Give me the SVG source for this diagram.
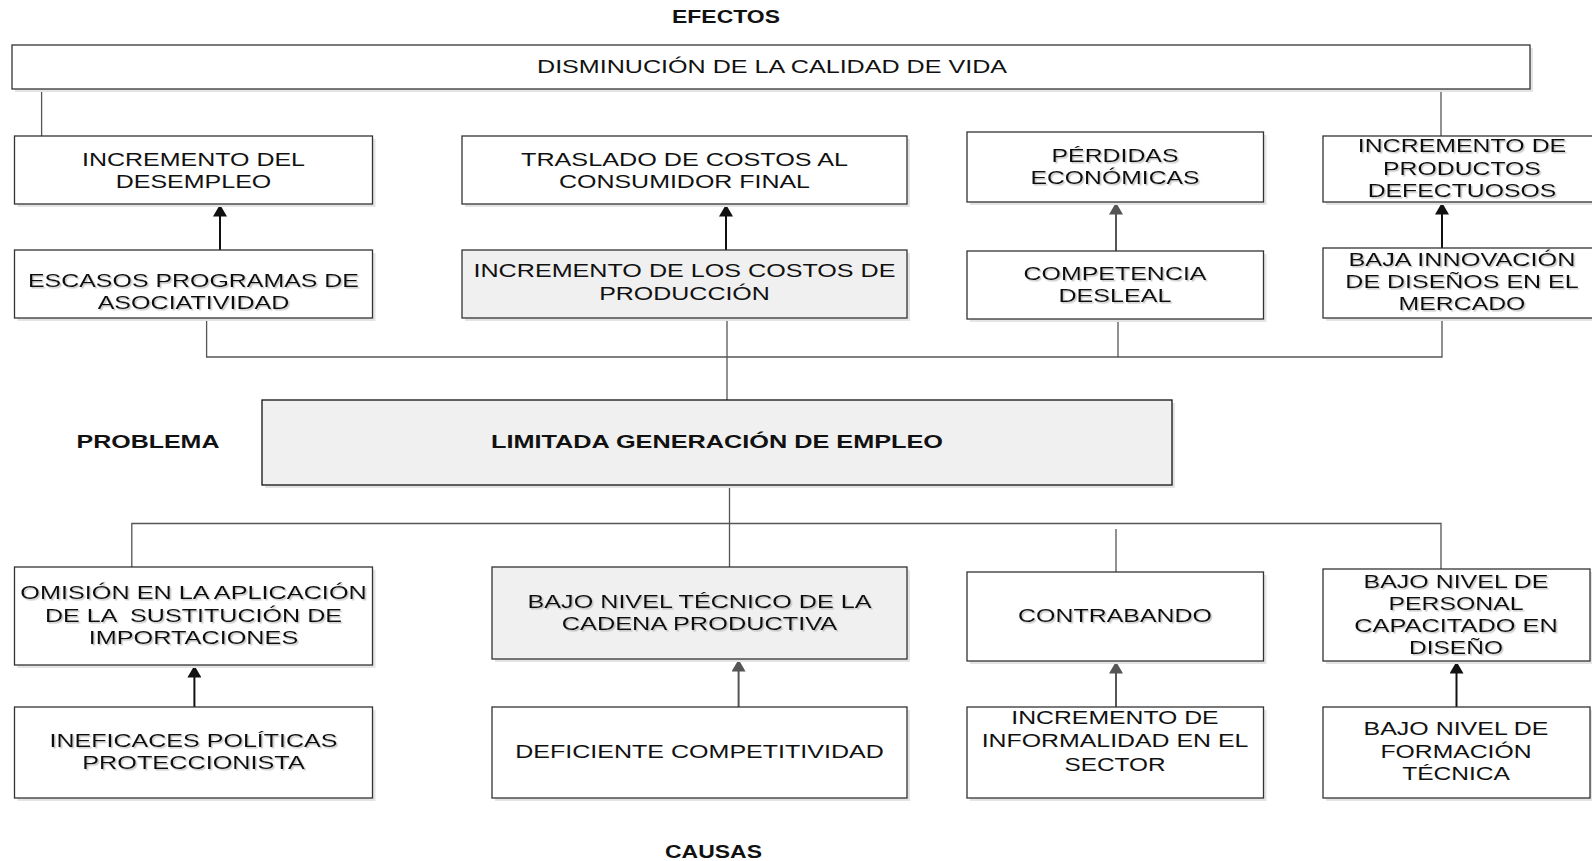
<svg xmlns="http://www.w3.org/2000/svg" width="1592" height="861" viewBox="0 0 1592 861">
<defs>
<style>
.box{fill:#ffffff;stroke:#333333;stroke-width:1.3}
.grey{fill:#f0f0f0}
.sh{fill:#e4e4e4;stroke:none}
.t{font-family:"Liberation Sans",Arial,sans-serif;font-size:19px;fill:#111111;text-anchor:middle}
.b{font-family:"Liberation Sans",Arial,sans-serif;font-size:18.5px;font-weight:bold;fill:#111111;text-anchor:middle}
.s{filter:url(#ts)}
.ln{fill:none;stroke:#555555;stroke-width:1.3}
.ab{fill:none;stroke:#111111;stroke-width:2;marker-end:url(#hb)}
.ag{fill:none;stroke:#555555;stroke-width:2;marker-end:url(#hg)}
</style>
<filter id="ts" x="-5%" y="-30%" width="110%" height="160%">
<feDropShadow dx="1.5" dy="1.5" stdDeviation="0.6" flood-color="#999999" flood-opacity="0.55"/>
</filter>
<marker id="hb" viewBox="0 0 12 14" refX="12" refY="7" markerWidth="12" markerHeight="14" markerUnits="userSpaceOnUse" orient="auto">
<path d="M0,0 L12,7 L0,14 z" fill="#111111"/>
</marker>
<marker id="hg" viewBox="0 0 12 14" refX="12" refY="7" markerWidth="12" markerHeight="14" markerUnits="userSpaceOnUse" orient="auto">
<path d="M0,0 L12,7 L0,14 z" fill="#555555"/>
</marker>
</defs>
<rect width="1592" height="861" fill="#ffffff"/>

<text class="b" x="726" y="23" textLength="108" lengthAdjust="spacingAndGlyphs">EFECTOS</text>
<text class="b" x="148" y="448" textLength="143" lengthAdjust="spacingAndGlyphs">PROBLEMA</text>
<text class="b" x="713.5" y="858" textLength="97" lengthAdjust="spacingAndGlyphs">CAUSAS</text>

<g id="connectors">
<path class="ln" d="M41.6,89 V136"/>
<path class="ln" d="M1441,89 V136"/>
<path class="ln" d="M206.6,318 V357 H1442 V318"/>
<path class="ln" d="M727,318 V400"/>
<path class="ln" d="M1118,319 V357"/>
<path class="ln" d="M729.5,485 V567"/>
<path class="ln" d="M131.8,567 V523.5 H1441 V569"/>
<path class="ln" d="M1116,529 V572"/>
<path class="ab" d="M220,250 V204.5"/>
<path class="ab" d="M726,250 V204.5"/>
<path class="ag" d="M1116,251 V202.5"/>
<path class="ab" d="M1442,248 V202.5"/>
<path class="ab" d="M194.4,707 V665.5"/>
<path class="ag" d="M738.6,707 V659.5"/>
<path class="ag" d="M1116,707 V661.5"/>
<path class="ab" d="M1456.5,707 V661.5"/>
</g>

<g id="n-top">
<rect class="sh" x="15" y="48" width="1518" height="44"/>
<rect class="box" x="12" y="45" width="1518" height="44"/>
<text class="t" x="772" y="72.7" textLength="470" lengthAdjust="spacingAndGlyphs">DISMINUCIÓN DE LA CALIDAD DE VIDA</text>
</g>

<g id="n-desempleo">
<rect class="sh" x="17.5" y="139" width="358" height="68"/>
<rect class="box" x="14.5" y="136" width="358" height="68"/>
<text class="t" x="193.5" y="165.7" textLength="223" lengthAdjust="spacingAndGlyphs">INCREMENTO DEL</text>
<text class="t" x="193.5" y="187.7" textLength="155.5" lengthAdjust="spacingAndGlyphs">DESEMPLEO</text>
</g>

<g id="n-traslado">
<rect class="sh" x="465" y="139" width="445" height="68"/>
<rect class="box" x="462" y="136" width="445" height="68"/>
<text class="t" x="684.5" y="165.7" textLength="327" lengthAdjust="spacingAndGlyphs">TRASLADO DE COSTOS AL</text>
<text class="t" x="684.5" y="187.7" textLength="251" lengthAdjust="spacingAndGlyphs">CONSUMIDOR FINAL</text>
</g>

<g id="n-perdidas">
<rect class="sh" x="970" y="135" width="296.5" height="70"/>
<rect class="box" x="967" y="132" width="296.5" height="70"/>
<text class="t s" x="1115" y="162.3" textLength="127" lengthAdjust="spacingAndGlyphs">PÉRDIDAS</text>
<text class="t s" x="1115" y="184" textLength="169" lengthAdjust="spacingAndGlyphs">ECONÓMICAS</text>
</g>

<g id="n-defectuosos">
<rect class="sh" x="1326" y="139" width="278" height="66"/>
<rect class="box" x="1323" y="136" width="278" height="66"/>
<text class="t s" x="1462" y="152.3" textLength="208.5" lengthAdjust="spacingAndGlyphs">INCREMENTO DE</text>
<text class="t s" x="1462" y="174.7" textLength="157.8" lengthAdjust="spacingAndGlyphs">PRODUCTOS</text>
<text class="t s" x="1462" y="196.7" textLength="188.7" lengthAdjust="spacingAndGlyphs">DEFECTUOSOS</text>
</g>

<g id="n-escasos">
<rect class="sh" x="17.5" y="253" width="358" height="68"/>
<rect class="box" x="14.5" y="250" width="358" height="68"/>
<text class="t s" x="193.5" y="287.3" textLength="331" lengthAdjust="spacingAndGlyphs">ESCASOS PROGRAMAS DE</text>
<text class="t s" x="193.5" y="309" textLength="191.7" lengthAdjust="spacingAndGlyphs">ASOCIATIVIDAD</text>
</g>

<g id="n-costos">
<rect class="sh" x="465" y="253" width="445" height="68"/>
<rect class="box grey" x="462" y="250" width="445" height="68"/>
<text class="t" x="684.5" y="277.3" textLength="422" lengthAdjust="spacingAndGlyphs">INCREMENTO DE LOS COSTOS DE</text>
<text class="t" x="684.5" y="300" textLength="170.7" lengthAdjust="spacingAndGlyphs">PRODUCCIÓN</text>
</g>

<g id="n-competencia">
<rect class="sh" x="970" y="254" width="296.5" height="68"/>
<rect class="box" x="967" y="251" width="296.5" height="68"/>
<text class="t s" x="1115" y="280" textLength="183" lengthAdjust="spacingAndGlyphs">COMPETENCIA</text>
<text class="t s" x="1115" y="302.3" textLength="113" lengthAdjust="spacingAndGlyphs">DESLEAL</text>
</g>

<g id="n-innovacion">
<rect class="sh" x="1326" y="251" width="278" height="70"/>
<rect class="box" x="1323" y="248" width="278" height="70"/>
<text class="t s" x="1462" y="265.7" textLength="227" lengthAdjust="spacingAndGlyphs">BAJA INNOVACIÓN</text>
<text class="t s" x="1462" y="287.7" textLength="233.3" lengthAdjust="spacingAndGlyphs">DE DISEÑOS EN EL</text>
<text class="t s" x="1462" y="310" textLength="126.8" lengthAdjust="spacingAndGlyphs">MERCADO</text>
</g>

<g id="n-problema">
<rect class="sh" x="265" y="403" width="910" height="85"/>
<rect class="box grey" x="262" y="400" width="910" height="85" style="stroke:#111111"/>
<text class="b" x="717" y="448.3" textLength="452" lengthAdjust="spacingAndGlyphs">LIMITADA GENERACIÓN DE EMPLEO</text>
</g>

<g id="n-omision">
<rect class="sh" x="17.5" y="570" width="358" height="98"/>
<rect class="box" x="14.5" y="567" width="358" height="98"/>
<text class="t s" x="193.5" y="599" textLength="346.5" lengthAdjust="spacingAndGlyphs">OMISIÓN EN LA APLICACIÓN</text>
<text class="t s" x="193.5" y="621.7" textLength="297" lengthAdjust="spacingAndGlyphs" style="white-space:pre">DE LA  SUSTITUCIÓN DE</text>
<text class="t s" x="193.5" y="644" textLength="209.6" lengthAdjust="spacingAndGlyphs">IMPORTACIONES</text>
</g>

<g id="n-tecnico">
<rect class="sh" x="495" y="570" width="415" height="92"/>
<rect class="box grey" x="492" y="567" width="415" height="92"/>
<text class="t s" x="699.5" y="608.3" textLength="344" lengthAdjust="spacingAndGlyphs">BAJO NIVEL TÉCNICO DE LA</text>
<text class="t s" x="699.5" y="630" textLength="275.6" lengthAdjust="spacingAndGlyphs">CADENA PRODUCTIVA</text>
</g>

<g id="n-contrabando">
<rect class="sh" x="970" y="575" width="296.5" height="89"/>
<rect class="box" x="967" y="572" width="296.5" height="89"/>
<text class="t s" x="1115" y="621.7" textLength="194" lengthAdjust="spacingAndGlyphs">CONTRABANDO</text>
</g>

<g id="n-personal">
<rect class="sh" x="1326" y="572" width="267" height="92"/>
<rect class="box" x="1323" y="569" width="267" height="92"/>
<text class="t s" x="1456" y="588.3" textLength="185" lengthAdjust="spacingAndGlyphs">BAJO NIVEL DE</text>
<text class="t s" x="1456" y="610" textLength="135.2" lengthAdjust="spacingAndGlyphs">PERSONAL</text>
<text class="t s" x="1456" y="631.7" textLength="203.6" lengthAdjust="spacingAndGlyphs">CAPACITADO EN</text>
<text class="t s" x="1456" y="654.3" textLength="94" lengthAdjust="spacingAndGlyphs">DISEÑO</text>
</g>

<g id="n-ineficaces">
<rect class="sh" x="17.5" y="710" width="358" height="91"/>
<rect class="box" x="14.5" y="707" width="358" height="91"/>
<text class="t s" x="193.5" y="747.3" textLength="288" lengthAdjust="spacingAndGlyphs">INEFICACES POLÍTICAS</text>
<text class="t s" x="193.5" y="769.3" textLength="222.5" lengthAdjust="spacingAndGlyphs">PROTECCIONISTA</text>
</g>

<g id="n-deficiente">
<rect class="sh" x="495" y="710" width="415" height="91"/>
<rect class="box" x="492" y="707" width="415" height="91"/>
<text class="t" x="699.5" y="758.3" textLength="368.5" lengthAdjust="spacingAndGlyphs">DEFICIENTE COMPETITIVIDAD</text>
</g>

<g id="n-informalidad">
<rect class="sh" x="970" y="710" width="296.5" height="91"/>
<rect class="box" x="967" y="707" width="296.5" height="91"/>
<text class="t" x="1115" y="724.3" textLength="207.3" lengthAdjust="spacingAndGlyphs">INCREMENTO DE</text>
<text class="t" x="1115" y="747.3" textLength="266.7" lengthAdjust="spacingAndGlyphs">INFORMALIDAD EN EL</text>
<text class="t" x="1115" y="770.7" textLength="101" lengthAdjust="spacingAndGlyphs">SECTOR</text>
</g>

<g id="n-formacion">
<rect class="sh" x="1326" y="710" width="267" height="91"/>
<rect class="box" x="1323" y="707" width="267" height="91"/>
<text class="t" x="1456" y="735" textLength="185" lengthAdjust="spacingAndGlyphs">BAJO NIVEL DE</text>
<text class="t" x="1456" y="757.7" textLength="151" lengthAdjust="spacingAndGlyphs">FORMACIÓN</text>
<text class="t" x="1456" y="780" textLength="107.6" lengthAdjust="spacingAndGlyphs">TÉCNICA</text>
</g>
</svg>
